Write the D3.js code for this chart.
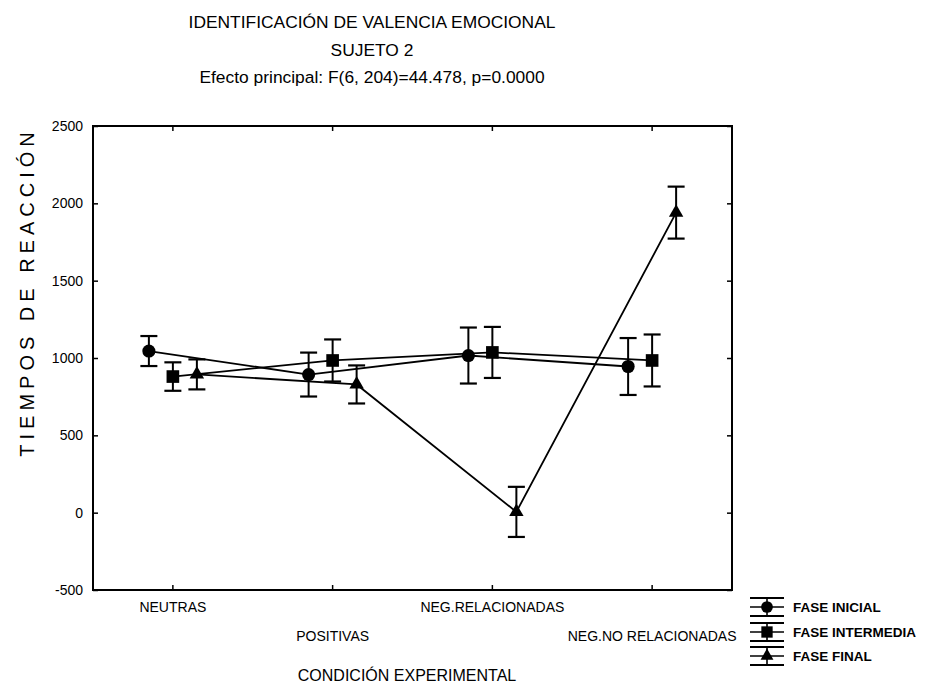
<!DOCTYPE html>
<html>
<head>
<meta charset="utf-8">
<script src="https://cdn.jsdelivr.net/npm/d3@7/dist/d3.min.js"></script>
<style>
  html, body { margin: 0; padding: 0; background: #fff; }
  svg { display: block; }
  text { font-family: "Liberation Sans", Arial, Helvetica, sans-serif; fill: #000; }
</style>
</head>
<body>
<div id="chart"></div>
<script>
// ---- Data ----
const categories = ["NEUTRAS", "POSITIVAS", "NEG.RELACIONADAS", "NEG.NO RELACIONADAS"];
const seriesNames = ["FASE INICIAL", "FASE INTERMEDIA", "FASE FINAL"];
const faseInicial = [1045, 893, 1016, 945];
const faseInicialErr = [97, 142, 181, 184];
const faseIntermedia = [880, 984, 1036, 984];
const faseIntermediaErr = [92, 136, 165, 168];
const faseFinal = [894, 829, 5, 1940];
const faseFinalErr = [97, 123, 162, 168];
const yTicks = [-500, 0, 500, 1000, 1500, 2000, 2500];
const titleLines = ["IDENTIFICACIÓN DE VALENCIA EMOCIONAL", "SUJETO 2", "Efecto principal: F(6, 204)=44.478, p=0.0000"];
const xTitle = "CONDICIÓN EXPERIMENTAL";
const yTitle = "TIEMPOS DE REACCIÓN";

// ---- Layout ----
const W = 927, H = 690;
const plot = { left: 93, right: 732, top: 126, bottom: 590 };

const series = [
  { name: seriesNames[0], values: faseInicial, errs: faseInicialErr, symbol: d3.symbolCircle, size: 135 },
  { name: seriesNames[1], values: faseIntermedia, errs: faseIntermediaErr, symbol: d3.symbolSquare, size: 160 },
  { name: seriesNames[2], values: faseFinal, errs: faseFinalErr, symbol: d3.symbolTriangle, size: 90 }
];

const svg = d3.select("#chart").append("svg").attr("width", W).attr("height", H);

const x = d3.scaleBand().domain(categories).range([plot.left, plot.right]);
const y = d3.scaleLinear().domain([-500, 2500]).range([plot.bottom, plot.top]);
const off = d3.scaleLinear().domain([0, series.length - 1]).range([-24, 24]);
const cx = (cat, si) => x(cat) + x.bandwidth() / 2 + off(si);

// ---- Title ----
const titleX = 372;
svg.append("g").selectAll("text").data(titleLines).join("text")
  .attr("x", titleX)
  .attr("y", (d, i) => 28 + i * 27.5)
  .attr("text-anchor", "middle")
  .style("font-size", "17.4px")
  .text(d => d);

// ---- Axes ----
const yAxisL = d3.axisLeft(y).tickValues(yTicks).tickSize(-5).tickPadding(10)
  .tickFormat(d => String(d));
const gy = svg.append("g").attr("transform", `translate(${plot.left},0)`).call(yAxisL);
gy.select(".domain").remove();
gy.selectAll("text").style("font-size", "14px").style("font-family", "'Liberation Sans', Arial, sans-serif");
gy.selectAll("line").attr("stroke-width", 1.5);

const gyR = svg.append("g").attr("transform", `translate(${plot.right},0)`)
  .call(d3.axisRight(y).tickValues(yTicks).tickSize(-5).tickFormat(""));
gyR.select(".domain").remove();
gyR.selectAll("line").attr("stroke-width", 1.5);

const gxT = svg.append("g").attr("transform", `translate(0,${plot.top})`)
  .call(d3.axisTop(x).tickSize(-5).tickFormat(""));
gxT.select(".domain").remove();
gxT.selectAll("line").attr("stroke-width", 1.5);

const gxB = svg.append("g").attr("transform", `translate(0,${plot.bottom})`)
  .call(d3.axisBottom(x).tickSize(-5).tickPadding(12));
gxB.select(".domain").remove();
gxB.selectAll("line").attr("stroke-width", 1.5);
gxB.selectAll("text")
  .style("font-size", "14px")
  .attr("y", (d, i) => i % 2 === 0 ? 12 : 41);

// frame
svg.append("rect")
  .attr("x", plot.left).attr("y", plot.top)
  .attr("width", plot.right - plot.left).attr("height", plot.bottom - plot.top)
  .attr("fill", "none").attr("stroke", "#000").attr("stroke-width", 2);

// axis titles
svg.append("text")
  .attr("x", 407).attr("y", 681)
  .attr("text-anchor", "middle")
  .style("font-size", "16px")
  .text(xTitle);

svg.append("text")
  .attr("transform", `translate(34,${292}) rotate(-90)`)
  .attr("text-anchor", "middle")
  .style("font-size", "20px")
  .style("letter-spacing", "5px")
  .text(yTitle);

// ---- Series ----
const line = d3.line();
const gS = svg.append("g");
series.forEach((s, si) => {
  const pts = categories.map((c, ci) => [cx(c, si), y(s.values[ci])]);
  gS.append("path").attr("d", line(pts))
    .attr("fill", "none").attr("stroke", "#000").attr("stroke-width", 1.8);

  const g = gS.append("g");
  categories.forEach((c, ci) => {
    const px = cx(c, si);
    const hi = y(s.values[ci] + s.errs[ci]);
    const lo = y(s.values[ci] - s.errs[ci]);
    g.append("line").attr("x1", px).attr("x2", px).attr("y1", hi).attr("y2", lo)
      .attr("stroke", "#000").attr("stroke-width", 2);
    [hi, lo].forEach(yy => g.append("line")
      .attr("x1", px - 8.5).attr("x2", px + 8.5).attr("y1", yy).attr("y2", yy)
      .attr("stroke", "#000").attr("stroke-width", 2.2));
    g.append("path")
      .attr("d", d3.symbol().type(s.symbol).size(s.size)())
      .attr("transform", `translate(${px},${y(s.values[ci])})`)
      .attr("fill", "#000");
  });
});

// ---- Legend ----
const legend = svg.append("g");
const legY = [607, 632, 656];
series.forEach((s, si) => {
  const ly = legY[si];
  const lx0 = 750, lx1 = 784, lxc = (lx0 + lx1) / 2;
  const g = legend.append("g");
  g.append("line").attr("x1", lx0).attr("x2", lx1).attr("y1", ly).attr("y2", ly)
    .attr("stroke", "#000").attr("stroke-width", 1.6);
  g.append("line").attr("x1", lxc).attr("x2", lxc).attr("y1", ly - 9).attr("y2", ly + 9)
    .attr("stroke", "#000").attr("stroke-width", 1.6);
  [ly - 9, ly + 9].forEach(yy => g.append("line")
    .attr("x1", lx0).attr("x2", lx1).attr("y1", yy).attr("y2", yy)
    .attr("stroke", "#000").attr("stroke-width", 2));
  g.append("path")
    .attr("d", d3.symbol().type(s.symbol).size(s.size * 0.8)())
    .attr("transform", `translate(${lxc},${ly})`)
    .attr("fill", "#000");
  g.append("text").attr("x", 793).attr("y", ly + 5)
    .style("font-size", "13.5px").style("font-weight", "bold")
    .text(s.name);
});
</script>
</body>
</html>
